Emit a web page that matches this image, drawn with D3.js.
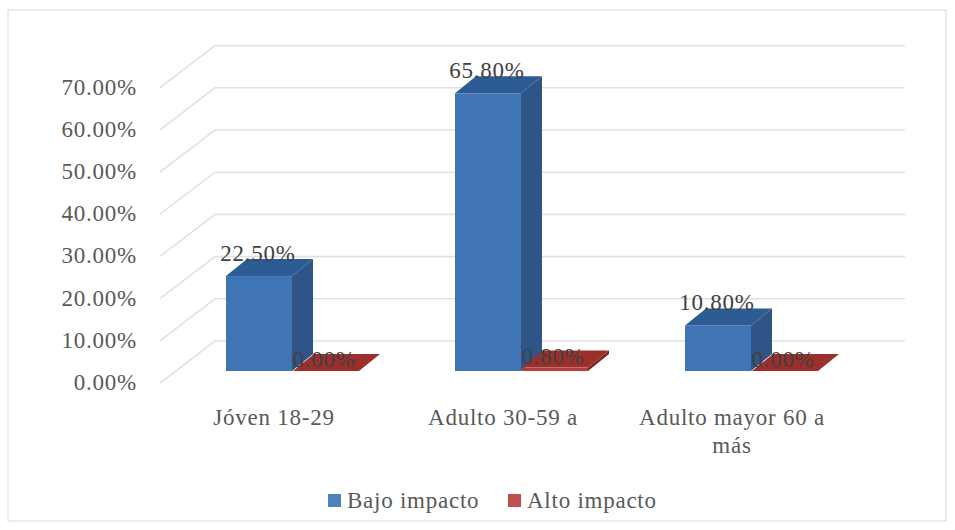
<!DOCTYPE html>
<html>
<head>
<meta charset="utf-8">
<script src="https://cdn.jsdelivr.net/npm/d3@7"></script>
<style>
  html, body { margin: 0; padding: 0; background: #fff; }
  text { font-family: "Liberation Serif", serif; }
</style>
</head>
<body>
<svg id="chart" width="955" height="530"></svg>
<script>
const categories = [["Jóven 18-29"], ["Adulto 30-59 a"], ["Adulto mayor 60 a", "más"]];
const seriesNames = ["Bajo impacto", "Alto impacto"];
const bajoImpacto = [22.5, 65.8, 10.8];
const altoImpacto = [0.0, 0.8, 0.0];
const yTicks = [0, 10, 20, 30, 40, 50, 60, 70];

const svg = d3.select("#chart");
const textColor = "#595959";
const labelColor = "#404040";
const gridColor = "#e2e2e2";
const fontSize = 23;
const spacing = "0.75px";

// Floor plane: bars stand on y(0) and recede by (depthX, depthY).
const y = d3.scaleLinear().domain([0, 70]).range([371, 75.6]);
const x = d3.scaleBand().domain(d3.range(categories.length)).range([181, 860]).paddingInner(0).paddingOuter(0);
const barW = 66;
const depthX = 21, depthY = -17;
const wallDX = 55, wallDY = -42;
const wallLeft = 160, wallRight = 905, wallBottom = 383;

const frame = svg.append("rect")
  .attr("x", 8).attr("y", 10).attr("width", 938).attr("height", 511)
  .attr("fill", "#fff").attr("stroke", "#d9d9d9").attr("stroke-width", 1);

// Gridlines: a short slanted run on the side wall, then straight across the back wall.
const gy = d => y(d) + (wallBottom - y(0));
const grid = svg.append("g").attr("fill", "none").attr("stroke", gridColor).attr("stroke-width", 1.6);
grid.selectAll("path").data(yTicks).join("path")
  .attr("d", d => d3.line()([
    [wallLeft, gy(d)],
    [wallLeft + wallDX, gy(d) + wallDY],
    [wallRight, gy(d) + wallDY]
  ]));

// Value axis labels
svg.append("g").selectAll("text").data(yTicks).join("text")
  .attr("x", 137)
  .attr("y", d => gy(d) + 7)
  .attr("text-anchor", "end")
  .attr("fill", textColor)
  .attr("font-size", fontSize)
  .attr("letter-spacing", spacing)
  .text(d => d3.format(".2f")(d) + "%");

function drawBar(g, x0, value, front, top, side) {
  const yTop = y(value), yBase = y(0);
  g.append("polygon").attr("fill", side).attr("points", [
    [x0 + barW, yTop], [x0 + barW + depthX, yTop + depthY],
    [x0 + barW + depthX, yBase + depthY], [x0 + barW, yBase]].join(" "));
  g.append("rect").attr("x", x0).attr("y", yTop).attr("width", barW)
    .attr("height", yBase - yTop).attr("fill", front);
  g.append("polygon").attr("fill", top).attr("points", [
    [x0, yTop], [x0 + depthX, yTop + depthY],
    [x0 + barW + depthX, yTop + depthY], [x0 + barW, yTop]].join(" "));
}

const barStarts = [226, 455, 685];
const bars = svg.append("g");
barStarts.forEach((x0, i) => {
  drawBar(bars, x0, bajoImpacto[i], "#4075b5", "#2d5c94", "#2f5486");
  drawBar(bars, x0 + barW + 1, altoImpacto[i], "#b23f3c", "#9c2f2c", "#7c2523");
});

// Data labels
const labels = svg.append("g").attr("fill", labelColor).attr("font-size", fontSize)
  .attr("letter-spacing", spacing).attr("text-anchor", "middle");
barStarts.forEach((x0, i) => {
  labels.append("text").attr("x", x0 + 32).attr("y", y(bajoImpacto[i]) - 15)
    .text(d3.format(".2f")(bajoImpacto[i]) + "%");
  labels.append("text").attr("x", x0 + 98).attr("y", y(altoImpacto[i]) - 4 + altoImpacto[i] * 0 )
    .text(d3.format(".2f")(altoImpacto[i]) + "%");
});

// Category labels
const catCenters = [274, 503, 732];
const cats = svg.append("g").attr("fill", textColor).attr("font-size", fontSize)
  .attr("letter-spacing", spacing).attr("text-anchor", "middle");
categories.forEach((lines, i) => {
  lines.forEach((line, j) => {
    cats.append("text").attr("x", catCenters[i]).attr("y", 425 + j * 28).text(line);
  });
});

// Legend
const legend = svg.append("g");
const legendX = [328, 508], legendColors = ["#4f81bd", "#c0504d"];
seriesNames.forEach((name, i) => {
  legend.append("rect").attr("x", legendX[i]).attr("y", 494).attr("width", 13).attr("height", 13).attr("fill", legendColors[i]);
  legend.append("text").attr("x", legendX[i] + 19).attr("y", 508)
    .attr("fill", textColor).attr("font-size", fontSize).attr("letter-spacing", spacing).text(name);
});
</script>
</body>
</html>
